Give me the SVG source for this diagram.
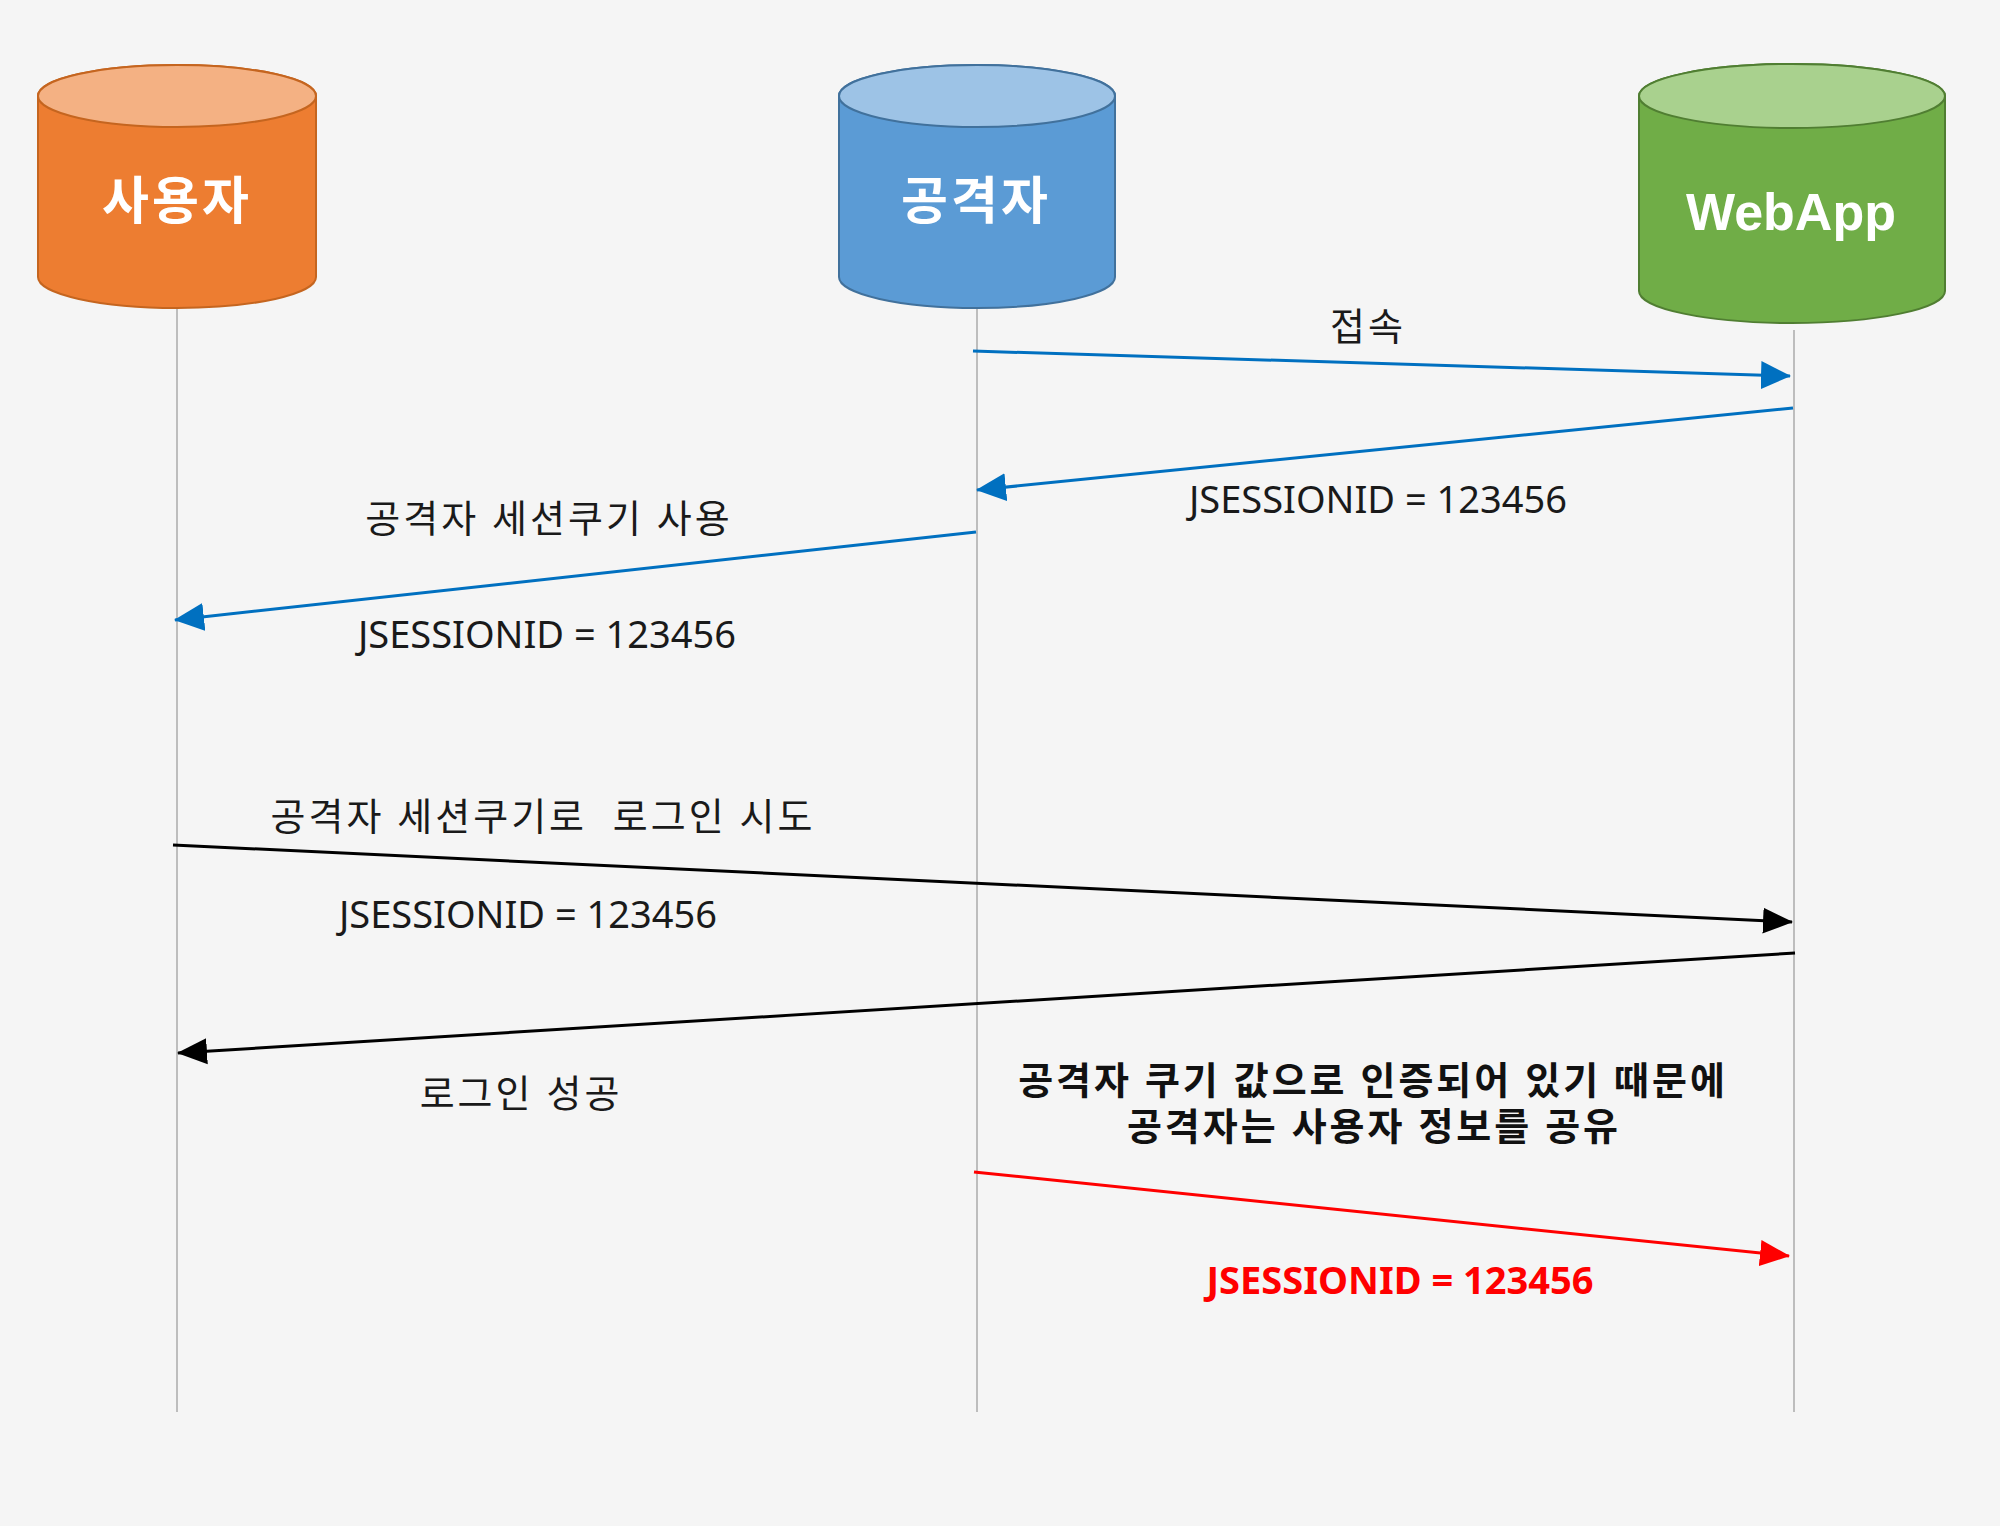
<svg xmlns="http://www.w3.org/2000/svg" width="2000" height="1526" viewBox="0 0 2000 1526">
<style>
.bg{fill:#f5f5f5}
.life{stroke:#bdbdbd;stroke-width:2;fill:none}
.lbl{font-family:"Noto Sans","Noto Sans CJK KR",sans-serif;font-size:38px;fill:#1a1a1a;text-anchor:middle;white-space:pre}
.ko{letter-spacing:3px}
.bold{font-weight:700;font-size:38px;fill:#111;letter-spacing:3px}
.red{font-weight:700;fill:#ff0000}
.node{font-family:"Noto Sans CJK KR",sans-serif;font-size:51px;font-weight:700;fill:#ffffff;text-anchor:middle;letter-spacing:3px}
.web{font-family:"Liberation Sans",Arial,sans-serif;font-size:52px;font-weight:700;fill:#ffffff;text-anchor:middle}
.ab{stroke:#0070c0;stroke-width:3;fill:none}
.ak{stroke:#000000;stroke-width:3;fill:none}
.ar{stroke:#ff0000;stroke-width:3;fill:none}
</style>
<defs>
<marker id="mb" markerUnits="userSpaceOnUse" markerWidth="30" markerHeight="30" refX="29" refY="14" orient="auto" viewBox="0 0 30 28"><path d="M0,0 L30,14 L0,28 Z" fill="#0070c0"/></marker>
<marker id="mk" markerUnits="userSpaceOnUse" markerWidth="30" markerHeight="30" refX="29" refY="13" orient="auto" viewBox="0 0 30 26"><path d="M0,0 L30,13 L0,26 Z" fill="#000000"/></marker>
<marker id="mr" markerUnits="userSpaceOnUse" markerWidth="30" markerHeight="30" refX="29" refY="13" orient="auto" viewBox="0 0 30 26"><path d="M0,0 L30,13 L0,26 Z" fill="#ff0000"/></marker>
</defs>
<rect class="bg" x="0" y="0" width="2000" height="1526"/>
<g id="lifelines">
<line class="life" x1="177" y1="309" x2="177" y2="1412"/>
<line class="life" x1="977" y1="309" x2="977" y2="1412"/>
<line class="life" x1="1794" y1="330" x2="1794" y2="1412"/>
</g>
<g id="node-user">
<path d="M38,96 L38,277 A139,31 0 0 0 316,277 L316,96 A139,31 0 0 0 38,96 Z" fill="#ed7d31" stroke="#c5651f" stroke-width="2"/>
<ellipse cx="177" cy="96" rx="139" ry="31" fill="#f4b183" stroke="#c5651f" stroke-width="2"/>
<text class="node" x="177" y="219">사용자</text>
</g>
<g id="node-attacker">
<path d="M839,96 L839,277 A138,31 0 0 0 1115,277 L1115,96 A138,31 0 0 0 839,96 Z" fill="#5b9bd5" stroke="#41719c" stroke-width="2"/>
<ellipse cx="977" cy="96" rx="138" ry="31" fill="#9dc3e6" stroke="#41719c" stroke-width="2"/>
<text class="node" x="976" y="219">공격자</text>
</g>
<g id="node-webapp">
<path d="M1639,96 L1639,291 A153,32 0 0 0 1945,291 L1945,96 A153,32 0 0 0 1639,96 Z" fill="#70ad47" stroke="#507e32" stroke-width="2"/>
<ellipse cx="1792" cy="96" rx="153" ry="32" fill="#a9d18e" stroke="#507e32" stroke-width="2"/>
<text class="web" x="1791" y="230">WebApp</text>
</g>
<g id="connectors">
<line class="ab" x1="973" y1="351" x2="1790" y2="376" marker-end="url(#mb)"/>
<line class="ab" x1="1793" y1="408" x2="977" y2="490" marker-end="url(#mb)"/>
<line class="ab" x1="976" y1="532" x2="175" y2="620" marker-end="url(#mb)"/>
<line class="ak" x1="173" y1="845" x2="1792" y2="922" marker-end="url(#mk)"/>
<line class="ak" x1="1795" y1="953" x2="178" y2="1053" marker-end="url(#mk)"/>
<line class="ar" x1="974" y1="1172" x2="1789" y2="1256" marker-end="url(#mr)"/>
</g>
<g id="labels">
<text class="lbl ko" x="1368" y="340">접속</text>
<text class="lbl" x="1378" y="513">JSESSIONID = 123456</text>
<text class="lbl ko" x="549" y="532">공격자 세션쿠기 사용</text>
<text class="lbl" x="547" y="648">JSESSIONID = 123456</text>
<text class="lbl ko" x="543" y="830">공격자 세션쿠기로  로그인 시도</text>
<text class="lbl" x="528" y="928">JSESSIONID = 123456</text>
<text class="lbl ko" x="521" y="1107">로그인 성공</text>
<text class="lbl bold"><tspan x="1373" y="1094">공격자 쿠기 값으로 인증되어 있기 때문에</tspan><tspan x="1374" y="1140">공격자는 사용자 정보를 공유</tspan></text>
<text class="lbl red" x="1400" y="1294">JSESSIONID = 123456</text>
</g>
</svg>
